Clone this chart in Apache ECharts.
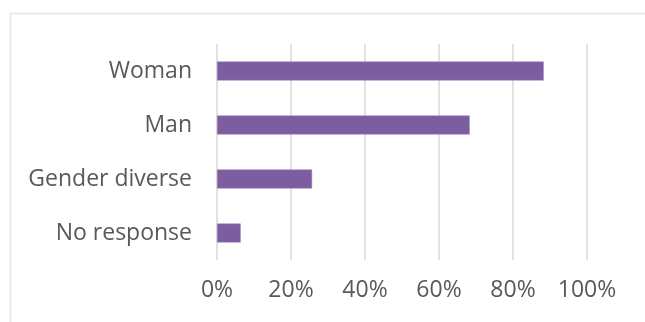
<!DOCTYPE html>
<html>
<head>
<meta charset="utf-8">
<script src="https://cdn.jsdelivr.net/npm/echarts@6/dist/echarts.min.js"></script>
<style>
  html, body { margin: 0; padding: 0; background: #fff; }
  #chart { width: 645px; height: 322px; }
</style>
</head>
<body>
<div id="chart"></div>
<script>
var categories = ['Woman', 'Man', 'Gender diverse', 'No response'];
var shares = [88.3, 68.3, 25.7, 6.4];
var tickMax = 100;
var tickStep = 20;

var myChart = echarts.init(document.getElementById('chart'));
var option = {
    animation: false,
    textStyle: { fontFamily: 'Open Sans' },
    graphic: [{
        type: 'rect',
        left: 8,
        top: 11,
        shape: { width: 700, height: 400 },
        style: { fill: 'none', stroke: '#e4e4e4', lineWidth: 1.5 },
        silent: true
    }],
    grid: {
        left: 217,
        right: 58,
        top: 44,
        bottom: 62
    },
    xAxis: {
        type: 'value',
        min: 0,
        max: tickMax,
        interval: tickStep,
        axisLine: { show: false },
        axisTick: { show: false },
        splitLine: { lineStyle: { color: '#d9d9d9', width: 1.5 } },
        axisLabel: {
            formatter: '{value}%',
            color: '#595959',
            fontSize: 23,
            margin: 19
        }
    },
    yAxis: {
        type: 'category',
        data: categories,
        inverse: true,
        axisLine: { show: false },
        axisTick: { show: false },
        axisLabel: {
            color: '#595959',
            fontSize: 23,
            margin: 25
        }
    },
    series: [{
        type: 'bar',
        data: shares,
        barWidth: 19,
        itemStyle: {
            color: '#7c5ea0',
            borderColor: '#9a82bb',
            borderWidth: 0.5
        }
    }]
};
myChart.setOption(option);

window.addEventListener('resize', function () {
    myChart.resize();
});
</script>
</body>
</html>
